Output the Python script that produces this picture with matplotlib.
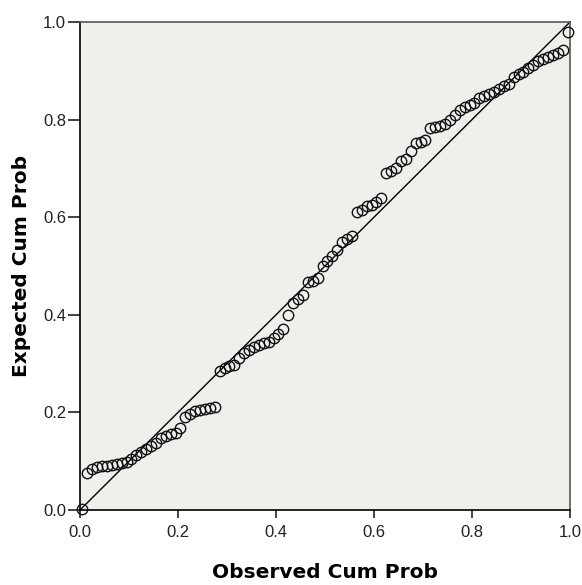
import numpy as np
import matplotlib
matplotlib.use("Agg")
import matplotlib.pyplot as plt

plt.rcParams['font.family'] = ['Liberation Sans', 'DejaVu Sans']

# --- Datos del gráfico P-P ---
observed_cum_prob = [
    0.005, 0.015, 0.025, 0.035, 0.045, 0.055, 0.065, 0.075, 0.085, 0.095,
    0.105, 0.115, 0.125, 0.135, 0.145, 0.155, 0.165, 0.175, 0.185, 0.195,
    0.205, 0.215, 0.225, 0.235, 0.245, 0.255, 0.265, 0.275, 0.285, 0.295,
    0.305, 0.315, 0.325, 0.335, 0.345, 0.355, 0.365, 0.375, 0.385, 0.395,
    0.405, 0.415, 0.425, 0.435, 0.445, 0.455, 0.465, 0.475, 0.485, 0.495,
    0.505, 0.515, 0.525, 0.535, 0.545, 0.555, 0.565, 0.575, 0.585, 0.595,
    0.605, 0.615, 0.625, 0.635, 0.645, 0.655, 0.665, 0.675, 0.685, 0.695,
    0.705, 0.715, 0.725, 0.735, 0.745, 0.755, 0.765, 0.775, 0.785, 0.795,
    0.805, 0.815, 0.825, 0.835, 0.845, 0.855, 0.865, 0.875, 0.885, 0.895,
    0.905, 0.915, 0.925, 0.935, 0.945, 0.955, 0.965, 0.975, 0.985, 0.995,
]
expected_cum_prob = [
    0.003, 0.076, 0.085, 0.088, 0.090, 0.091, 0.092, 0.094, 0.096, 0.098,
    0.105, 0.112, 0.119, 0.126, 0.131, 0.137, 0.148, 0.152, 0.155, 0.158,
    0.168, 0.190, 0.197, 0.203, 0.205, 0.207, 0.209, 0.212, 0.285, 0.292,
    0.295, 0.297, 0.312, 0.322, 0.328, 0.333, 0.338, 0.343, 0.345, 0.352,
    0.360, 0.370, 0.400, 0.425, 0.432, 0.440, 0.467, 0.470, 0.475, 0.500,
    0.510, 0.520, 0.532, 0.550, 0.555, 0.562, 0.610, 0.615, 0.622, 0.626,
    0.632, 0.640, 0.690, 0.695, 0.700, 0.715, 0.720, 0.735, 0.752, 0.755,
    0.758, 0.782, 0.785, 0.787, 0.790, 0.800, 0.810, 0.820, 0.825, 0.830,
    0.835, 0.845, 0.848, 0.853, 0.857, 0.862, 0.868, 0.872, 0.888, 0.893,
    0.897, 0.905, 0.912, 0.920, 0.925, 0.928, 0.932, 0.937, 0.942, 0.980,
]
tick_values = [0.0, 0.2, 0.4, 0.6, 0.8, 1.0]
tick_labels = ['0.0', '0.2', '0.4', '0.6', '0.8', '1.0']

# --- Figura ---
fig = plt.figure(figsize=(5.82, 5.85), dpi=100, facecolor='white')
ax = fig.add_axes([80 / 582, 75 / 585, 490 / 582, 488 / 585])
ax.set_facecolor('#efefec')

ax.plot([0, 1], [0, 1], color='black', linewidth=1.0, zorder=2)
ax.plot(observed_cum_prob, expected_cum_prob, linestyle='none', marker='o',
        markersize=7.5, markerfacecolor='none', markeredgecolor='#111111',
        markeredgewidth=1.0, zorder=3, clip_on=False)

ax.set_xlim(0, 1)
ax.set_ylim(0, 1)
ax.set_xticks(tick_values)
ax.set_xticklabels(tick_labels)
ax.set_yticks(tick_values)
ax.set_yticklabels(tick_labels)
ax.tick_params(axis='x', direction='out', length=6, width=1.2, pad=5,
               labelsize=12, colors='#222222')
ax.tick_params(axis='y', direction='out', length=9, width=1.2, pad=1,
               labelsize=12, colors='#222222')

for side in ['left', 'bottom']:
    ax.spines[side].set_color('black')
    ax.spines[side].set_linewidth(1.2)
for side in ['top', 'right']:
    ax.spines[side].set_color('#555555')
    ax.spines[side].set_linewidth(1.2)

ax.set_xlabel('Observed Cum Prob', fontsize=14.5, fontweight='bold',
              family='DejaVu Sans')
ax.set_ylabel('Expected Cum Prob', fontsize=14.5, fontweight='bold',
              family='DejaVu Sans')
ax.xaxis.label.set_va('center')
ax.yaxis.label.set_va('center')
ax.xaxis.set_label_coords(0.5, (510 - 573) / 488)
ax.yaxis.set_label_coords((22 - 80) / 490, 0.5)

fig.savefig('out.png', dpi=100)
